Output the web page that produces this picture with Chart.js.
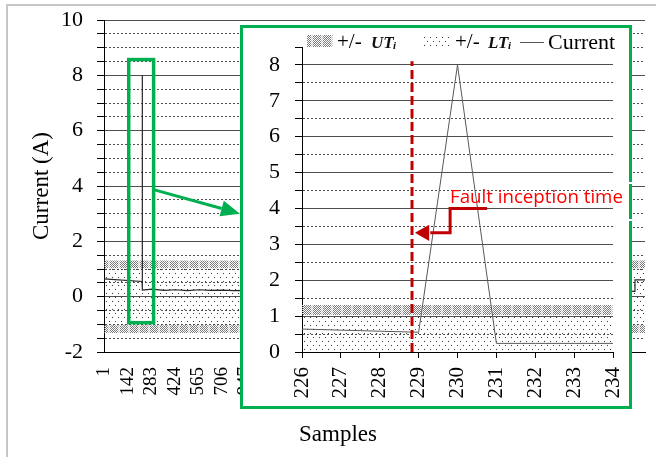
<!DOCTYPE html>
<html>
<head>
<meta charset="utf-8">
<script src="https://cdn.jsdelivr.net/npm/chart.js@4.4.1/dist/chart.umd.min.js"></script>
<style>
  html, body { margin: 0; padding: 0; background: #fff; }
  body { width: 656px; height: 457px; position: relative; overflow: hidden; }
  #frame { position: absolute; left: 6px; top: 4px; right: 0; bottom: 0; border-top: 2px solid #c6c6c6; border-left: 2px solid #c6c6c6; }
  #main { position: absolute; left: 0; top: 0; }
  #inset { position: absolute; left: 240px; top: 25px; width: 386px; height: 378px; border: 3px solid #00b050; background: #fff; }
  #inset canvas { display: block; }
  .gap { position: absolute; left: 628px; width: 6px; height: 2px; background: #fff; }
</style>
</head>
<body>
<div id="frame"></div>
<canvas id="main" width="656" height="457"></canvas>
<div id="inset"><canvas id="zoom" width="386" height="378"></canvas></div>
<div class="gap" style="top:182px"></div>
<div class="gap" style="top:219px"></div>
<script>
// whole record: sample number -> current (A)
const mainSamples = [1, 229, 230, 231, 290, 360, 430, 500, 570, 640, 710, 780, 850, 3150, 3179, 3180, 3240];
const mainCurrent = [0.64, 0.55, 8.0, 0.24, 0.27, 0.23, 0.25, 0.22, 0.25, 0.23, 0.24, 0.22, 0.23, 0.2, 0.19, 0.61, 0.61];
const sampleRange = [1, 3240];
const sampleTicks = [1, 142, 283, 424, 565, 706, 847, 988, 1129, 1270, 1411, 1552, 1693, 1834,
  1975, 2116, 2257, 2398, 2539, 2680, 2821, 2962, 3103];

// zoomed window around the fault
const zoomSamples = [226, 227, 228, 229, 230, 231, 232, 233, 234];
const zoomCurrent = [0.64, 0.61, 0.58, 0.55, 8.0, 0.24, 0.24, 0.24, 0.24];

// +/- thresholds
const UT = 1.31;
const LT = 1.03;

// annotations (in data units)
const faultSample = 228.83;
const faultTop = 8.1;
const arrowX = [230.76, 229.81, 229.81, 229.3];
const arrowY = [4.0, 4.0, 3.32, 3.32];
const arrowHead = [229.15, 3.32];
const zoomBoxX = [149, 298];
const zoomBoxY = [-0.94, 8.57];
const pointerX = [298, 815];
const pointerY = [3.87, 3.0];

const SERIF = '"Liberation Serif", "Times New Roman", serif';
const GREEN = '#00b050';
const DARKRED = '#c00000';

function tile(w, h, paint) {
  const c = document.createElement('canvas');
  c.width = w; c.height = h;
  paint(c.getContext('2d'));
  return c;
}

const utTile = tile(10, 2, g => {
  for (let x = 0; x < 10; x++) {
    for (let y = 0; y < 2; y++) {
      if ((x + y) % 2 === 0) {
        g.fillStyle = x < 8 ? '#7a7a7a' : '#c8c8c8';
        g.fillRect(x, y, 1, 1);
      }
    }
  }
});
const ltTile = tile(6, 8, g => {
  g.fillStyle = '#3a3a3a';
  g.fillRect(1, 1, 1, 1);
  g.fillRect(4, 5, 1, 1);
});

function bandSets(ctx, xs) {
  const ut = ctx.createPattern(utTile, 'repeat');
  const lt = ctx.createPattern(ltTile, 'repeat');
  const flat = v => xs.map(x => ({x, y: v}));
  const base = {pointRadius: 0, borderWidth: 0, borderColor: 'rgba(0,0,0,0)', order: 10};
  return [
    {...base, data: flat(LT), fill: {target: 1}, backgroundColor: lt},
    {...base, data: flat(-LT), fill: false},
    {...base, data: flat(UT), fill: {target: 0}, backgroundColor: ut},
    {...base, data: flat(-UT), fill: {target: 1}, backgroundColor: ut},
  ];
}

function yGrid(major, hideTop) {
  return {
    color: c => (c.tick && c.tick.value === hideTop) ? 'rgba(0,0,0,0)' : '#4d4d4d',
    lineWidth: 1,
    tickLength: 7,
    tickColor: '#000',
    tickWidth: 1
  };
}
function yBorder(major) {
  return {
    color: '#000',
    width: 1,
    dash: c => (c.tick && Math.abs(c.tick.value % major) > 1e-9) ? [2, 2] : []
  };
}

const pts = (xs, ys) => xs.map((x, i) => ({x, y: ys[i]}));

const mainDeco = {
  id: 'mainDeco',
  afterDatasetsDraw(chart) {
    const {ctx: g, scales: {x, y}} = chart;
    g.save();
    g.strokeStyle = GREEN;
    g.lineWidth = 3.5;
    const x0 = x.getPixelForValue(zoomBoxX[0]), x1 = x.getPixelForValue(zoomBoxX[1]);
    const y0 = y.getPixelForValue(zoomBoxY[1]), y1 = y.getPixelForValue(zoomBoxY[0]);
    g.strokeRect(x0, y0, x1 - x0, y1 - y0);

    const ax = x.getPixelForValue(pointerX[0]), ay = y.getPixelForValue(pointerY[0]);
    const bx = x.getPixelForValue(pointerX[1]), by = y.getPixelForValue(pointerY[1]);
    const ang = Math.atan2(by - ay, bx - ax);
    const hl = 19, hw = 8;
    const cx = bx - hl * Math.cos(ang), cy = by - hl * Math.sin(ang);
    g.lineWidth = 3;
    g.beginPath(); g.moveTo(ax, ay); g.lineTo(cx, cy); g.stroke();
    g.fillStyle = GREEN;
    g.beginPath();
    g.moveTo(bx, by);
    g.lineTo(cx + hw * Math.sin(ang), cy - hw * Math.cos(ang));
    g.lineTo(cx - hw * Math.sin(ang), cy + hw * Math.cos(ang));
    g.closePath();
    g.fill();
    g.restore();
  },
  afterDraw(chart) {
    const g = chart.ctx;
    g.save();
    g.fillStyle = '#000';
    g.font = '23px ' + SERIF;
    g.textAlign = 'center';
    g.textBaseline = 'alphabetic';
    g.fillText('Samples', 338, 441);
    g.restore();
  }
};

const zoomDeco = {
  id: 'zoomDeco',
  afterDraw(chart) {
    const g = chart.ctx;
    g.save();
    g.textBaseline = 'alphabetic';
    g.fillStyle = g.createPattern(utTile, 'repeat');
    g.fillRect(64, 7, 26, 12);
    g.fillStyle = g.createPattern(ltTile, 'repeat');
    g.fillRect(180, 7, 28, 12);
    g.strokeStyle = '#595959';
    g.lineWidth = 1;
    g.beginPath(); g.moveTo(277, 14.5); g.lineTo(301, 14.5); g.stroke();

    g.fillStyle = '#000';
    g.font = '21px ' + SERIF;
    g.fillText('+/-', 94, 20);
    g.fillText('+/-', 212, 20);
    g.fillStyle = '#111';
    g.font = 'italic bold 17px ' + SERIF;
    g.fillText('UT', 128, 20);
    g.fillText('LT', 245, 20);
    g.font = 'italic bold 11px ' + SERIF;
    g.fillText('i', 150, 21);
    g.fillText('i', 265, 21);
    g.fillStyle = '#000';
    g.font = '22px ' + SERIF;
    g.fillText('Current', 305, 20.5);

    g.fillStyle = '#ff0000';
    g.font = '18.7px "Open Sans", sans-serif';
    g.fillText('Fault inception time', 207, 175);
    g.restore();
  }
};

const mainCanvas = document.getElementById('main');
new Chart(mainCanvas, {
  type: 'line',
  data: {
    datasets: [
      ...bandSets(mainCanvas.getContext('2d'), sampleRange),
      {data: pts(mainSamples, mainCurrent), borderColor: '#262626', borderWidth: 1.2, pointRadius: 0, fill: false, order: 1}
    ]
  },
  options: {
    responsive: false,
    animation: false,
    devicePixelRatio: 1,
    events: [],
    layout: {padding: {left: 0, right: 11, top: 20, bottom: 0}},
    plugins: {legend: {display: false}, tooltip: {enabled: false}},
    scales: {
      x: {
        type: 'linear',
        min: sampleRange[0],
        max: sampleRange[1],
        afterBuildTicks: s => { s.ticks = sampleTicks.map(v => ({value: v})); },
        afterFit: s => { s.height = 105; s.paddingLeft = 0; s.paddingRight = 0; },
        grid: {drawOnChartArea: false, drawTicks: false},
        border: {color: '#000', width: 1},
        ticks: {autoSkip: false, minRotation: 90, maxRotation: 90, padding: 15, color: '#000',
          font: {family: SERIF, size: 19}, callback: v => String(v)}
      },
      y: {
        min: -2,
        max: 10,
        afterFit: s => { s.width = 104; s.paddingTop = 0; s.paddingBottom = 0; },
        ticks: {stepSize: 0.5, autoSkip: false, padding: 14, color: '#000',
          font: {family: SERIF, size: 22}, callback: v => (v % 2 === 0 ? String(v) : '')},
        grid: yGrid(2),
        border: yBorder(2),
        title: {display: true, text: 'Current (A)', color: '#000',
          font: {family: SERIF, size: 23}, padding: {top: 28, bottom: 0}}
      }
    }
  },
  plugins: [mainDeco]
});

const zoomCanvas = document.getElementById('zoom');
new Chart(zoomCanvas, {
  type: 'line',
  data: {
    datasets: [
      ...bandSets(zoomCanvas.getContext('2d'), [zoomSamples[0], zoomSamples[zoomSamples.length - 1]]),
      {data: pts(zoomSamples, zoomCurrent), borderColor: '#595959', borderWidth: 1, pointRadius: 0, fill: false, order: 3},
      {data: [{x: faultSample, y: 0}, {x: faultSample, y: faultTop}], borderColor: DARKRED, borderWidth: 3,
        borderDash: [9, 4], pointRadius: 0, fill: false, order: 2},
      {data: pts(arrowX, arrowY), borderColor: DARKRED, borderWidth: 3, pointRadius: 0, fill: false, order: 1},
      {data: [{x: arrowHead[0], y: arrowHead[1]}], showLine: false, pointStyle: 'triangle', pointRotation: -90,
        pointRadius: 9.5, pointBackgroundColor: DARKRED, pointBorderWidth: 0, order: 0}
    ]
  },
  options: {
    responsive: false,
    animation: false,
    devicePixelRatio: 1,
    events: [],
    layout: {padding: {left: 0, right: 16, top: 19, bottom: 0}},
    plugins: {legend: {display: false}, tooltip: {enabled: false}},
    scales: {
      x: {
        type: 'linear',
        min: zoomSamples[0],
        max: zoomSamples[zoomSamples.length - 1],
        afterFit: s => { s.height = 54; s.paddingLeft = 0; s.paddingRight = 0; },
        grid: {drawOnChartArea: false, drawTicks: true, tickLength: 6, tickColor: '#000'},
        border: {color: '#000', width: 1},
        ticks: {stepSize: 1, autoSkip: false, minRotation: 90, maxRotation: 90, padding: 9, color: '#000',
          font: {family: SERIF, size: 21}, callback: v => String(v)}
      },
      y: {
        min: 0,
        max: 8.5,
        afterFit: s => { s.width = 59; s.paddingTop = 0; s.paddingBottom = 0; },
        ticks: {stepSize: 0.5, autoSkip: false, padding: 15, color: '#000',
          font: {family: SERIF, size: 22}, callback: v => (Number.isInteger(v) ? String(v) : '')},
        grid: yGrid(1, 8.5),
        border: yBorder(1)
      }
    }
  },
  plugins: [zoomDeco]
});
</script>
</body>
</html>
